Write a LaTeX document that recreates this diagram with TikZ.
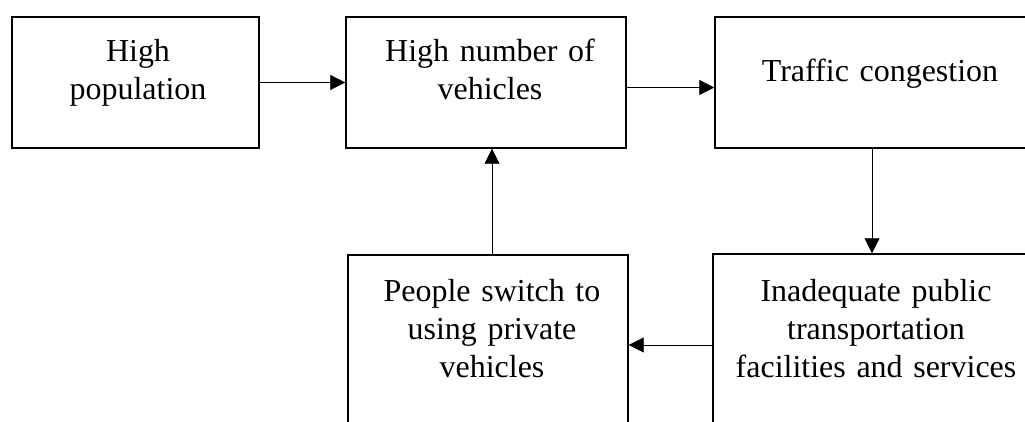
\documentclass[tikz,border=0pt]{standalone}
\usepackage{fontspec}
\setmainfont{Liberation Serif}
\usetikzlibrary{arrows.meta}

\begin{document}
\begin{tikzpicture}[
		box/.style={draw, line width=0.8pt, rectangle, inner sep=0pt},
		boxtext/.style={anchor=base, inner sep=0pt, align=center, text width=#1,
			font=\fontsize{18.2}{21.6}\selectfont},
		arr/.style={line width=0.5pt, -{Triangle[length=0.3cm, width=0.3cm]}}
	]
		%%%%% START %%%%%
		
		\path[use as bounding box, clip] (0, 0) rectangle (20.5, -8.44);
		
		% top row
		\node[box, minimum width=4.94cm, minimum height=2.62cm] (pop) at (2.71, -1.65) {};
		\node[box, minimum width=5.6cm, minimum height=2.62cm] (veh) at (9.72, -1.65) {};
		\node[box, minimum width=6.6cm, minimum height=2.62cm] (cong) at (17.6, -1.65) {};
		
		% bottom row, running off the page
		\node[box, minimum width=5.6cm, minimum height=4cm] (priv) at (9.76, -7.1) {};
		\node[box, minimum width=6.52cm, minimum height=4cm] (pub) at (17.52, -7.08) {};
		
		\node[boxtext=4.6cm] (popt) at (2.76, -1.24) {High\\population};
		\node[boxtext=5.4cm] (veht) at (9.8, -1.24) {High number of\\vehicles};
		\node[boxtext=6.2cm] (congt) at (17.6, -1.64) {Traffic congestion};
		\node[boxtext=5.4cm] (privt) at (9.84, -6.04) {People switch to\\using private\\vehicles};
		\node[boxtext=6.2cm] (pubt) at (17.52, -6.04) {Inadequate public\\transportation\\facilities and services};
		
		% the loop
		\draw[arr] (pop.east) -- (veh.west);
		\draw[arr] ([yshift=-0.1cm]veh.east) -- ([yshift=-0.1cm]cong.west);
		\draw[arr] ([xshift=-0.16cm]cong.south) -- ([xshift=-0.16cm]cong.south |- pub.north);
		\draw[arr] (pub.west |- 0, -6.9) -- (priv.east |- 0, -6.9);
		\draw[arr] ([xshift=0.08cm]priv.north) -- ([xshift=0.08cm]priv.north |- veh.south);
		
		%%%%% END %%%%%
	\end{tikzpicture}
\end{document}
